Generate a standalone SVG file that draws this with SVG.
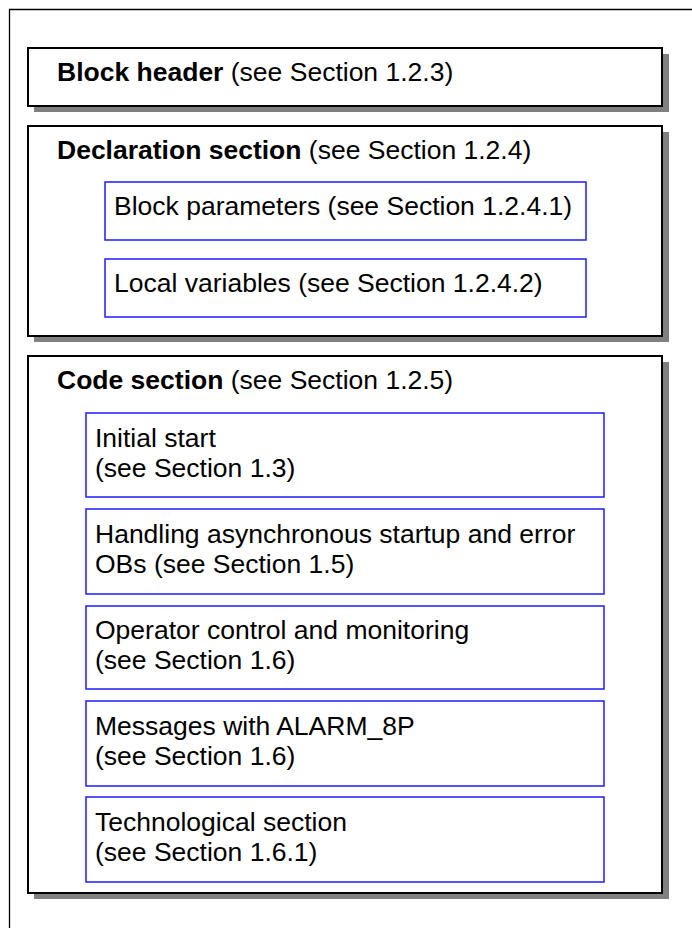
<svg xmlns="http://www.w3.org/2000/svg" width="692" height="928" viewBox="0 0 692 928">
  <style>
    .frame { fill: none; stroke: #000; stroke-width: 1.3; }
    .shadow { fill: #808080; stroke: none; }
    .section { fill: #fff; stroke: #000; stroke-width: 2; }
    .item { fill: #fff; stroke: #2a2aff; stroke-width: 1.6; }
    text { font-family: "Liberation Sans", Arial, sans-serif; font-size: 26.5px; fill: #000; }
    .b { font-weight: bold; }
  </style>
  <rect width="692" height="928" fill="#fff"/>
  <!-- page frame, open to the right and bottom -->
  <path class="frame" d="M9.5,928 V9.5 H692"/>

  <g id="block-header">
    <rect class="shadow" x="34" y="54" width="635" height="58"/>
    <rect class="section" x="28" y="48" width="634" height="58"/>
    <text x="57" y="81"><tspan class="b">Block header</tspan> (see Section 1.2.3)</text>
  </g>

  <g id="declaration-section">
    <rect class="shadow" x="34" y="132" width="635" height="210"/>
    <rect class="section" x="28" y="126" width="634" height="210"/>
    <text x="57" y="159"><tspan class="b">Declaration section</tspan> (see Section 1.2.4)</text>
  </g>
  <g id="block-parameters">
    <rect class="item" x="105" y="182" width="481" height="58"/>
    <text x="114" y="215">Block parameters (see Section 1.2.4.1)</text>
  </g>
  <g id="local-variables">
    <rect class="item" x="105" y="259" width="481" height="58"/>
    <text x="114" y="292">Local variables (see Section 1.2.4.2)</text>
  </g>

  <g id="code-section">
    <rect class="shadow" x="34" y="362" width="635" height="537"/>
    <rect class="section" x="28" y="356" width="634" height="537"/>
    <text x="57" y="389"><tspan class="b">Code section</tspan> (see Section 1.2.5)</text>
  </g>
  <g id="initial-start">
    <rect class="item" x="86" y="413" width="518" height="84"/>
    <text x="95" y="447">Initial start</text>
    <text x="95" y="477">(see Section 1.3)</text>
  </g>
  <g id="async-startup-error-obs">
    <rect class="item" x="86" y="509" width="518" height="85"/>
    <text x="95" y="543">Handling asynchronous startup and error</text>
    <text x="95" y="573">OBs (see Section 1.5)</text>
  </g>
  <g id="operator-control">
    <rect class="item" x="86" y="606" width="518" height="83"/>
    <text x="95" y="639">Operator control and monitoring</text>
    <text x="95" y="669">(see Section 1.6)</text>
  </g>
  <g id="messages-alarm-8p">
    <rect class="item" x="86" y="701" width="518" height="85"/>
    <text x="95" y="735">Messages with ALARM_8P</text>
    <text x="95" y="765">(see Section 1.6)</text>
  </g>
  <g id="technological-section">
    <rect class="item" x="86" y="797" width="518" height="85"/>
    <text x="95" y="831">Technological section</text>
    <text x="95" y="861">(see Section 1.6.1)</text>
  </g>

  <!-- no connectors in this layout -->
  <g id="connectors"/>
</svg>
